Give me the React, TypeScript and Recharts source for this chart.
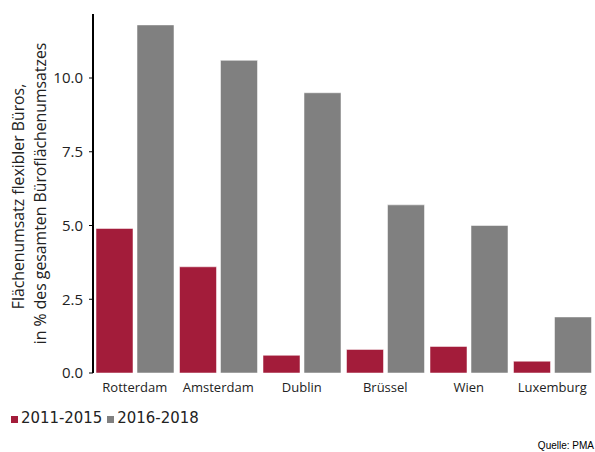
import { BarChart, Bar, XAxis, YAxis } from "recharts";

const cities = ["Rotterdam", "Amsterdam", "Dublin", "Brüssel", "Wien", "Luxemburg"];
const share20112015 = [4.9, 3.6, 0.6, 0.8, 0.9, 0.4];
const share20162018 = [11.8, 10.6, 9.5, 5.7, 5.0, 1.9];
const yTicks = [0, 2.5, 5, 7.5, 10];
const boundaryTicks = [0, 1, 2, 3, 4, 5, 6];

const RED = "#a31c3a";
const GRAY = "#808080";
const AXIS_FONT = "'Open Sans', sans-serif";

const data = cities.map((city, i) => ({
  city,
  a: share20112015[i],
  b: share20162018[i],
}));

function YTitle(props: any) {
  const vb = props.viewBox || {};
  const cy = vb.y + vb.height / 2;
  return (
    <g>
      <text
        x={18}
        y={cy + 3}
        transform={`rotate(-90, 18, ${cy + 3})`}
        textAnchor="middle"
        dominantBaseline="central"
        fontFamily={AXIS_FONT}
        fontSize={15.8}
        fill="#222"
      >
        Flächenumsatz flexibler Büros,
      </text>
      <text
        x={40}
        y={cy}
        transform={`rotate(-90, 40, ${cy})`}
        textAnchor="middle"
        dominantBaseline="central"
        fontFamily={AXIS_FONT}
        fontSize={15.8}
        fill="#222"
      >
        in % des gesamten Büroflächenumsatzes
      </text>
    </g>
  );
}

export default function App() {
  return (
    <div style={{ position: "absolute", left: 0, top: 0, width: 595, height: 452, background: "#fff" }}>
      <BarChart
        width={595}
        height={452}
        data={data}
        margin={{ top: 14, right: 1, left: 0, bottom: 49 }}
        barCategoryGap={3}
        barGap={4}
      >
        <XAxis
          xAxisId="grid"
          type="number"
          domain={[0, 6]}
          ticks={boundaryTicks}
          height={0}
          axisLine={{ stroke: "#000", strokeWidth: 2 }}
          tickLine={{ stroke: "#000", strokeWidth: 1 }}
          tickSize={4}
          tickFormatter={() => ""}
        />
        <XAxis
          xAxisId="cat"
          dataKey="city"
          height={30}
          axisLine={false}
          tickLine={false}
          interval={0}
          tickMargin={4}
          tick={{ fontFamily: AXIS_FONT, fontSize: 13, fill: "#222" }}
        />
        <YAxis
          width={93}
          domain={[0, 12.17]}
          ticks={yTicks}
          tickFormatter={(v: number) => v.toFixed(1)}
          axisLine={{ stroke: "#000", strokeWidth: 2 }}
          tickLine={{ stroke: "#000" }}
          tickSize={4}
          tickMargin={6}
          tick={{ fontFamily: AXIS_FONT, fontSize: 15, fill: "#222" }}
          label={{ content: <YTitle /> }}
        />
        <Bar xAxisId="cat" dataKey="a" fill={RED} stroke="rgba(255,255,255,0.5)" isAnimationActive={false} />
        <Bar xAxisId="cat" dataKey="b" fill={GRAY} stroke="rgba(255,255,255,0.5)" isAnimationActive={false} />
      </BarChart>
      <div
        style={{
          position: "absolute",
          left: 11,
          top: 408,
          display: "flex",
          alignItems: "baseline",
          fontFamily: "'DejaVu Sans Condensed', 'Liberation Sans', sans-serif",
          fontSize: 16.6,
          color: "#222",
        }}
      >
        <span style={{ width: 7, height: 7, background: RED, display: "inline-block", marginRight: 3 }} />
        <span style={{ marginRight: 5 }}>2011-2015</span>
        <span style={{ width: 7, height: 7, background: GRAY, display: "inline-block", marginRight: 3 }} />
        <span>2016-2018</span>
      </div>
      <div
        style={{
          position: "absolute",
          right: 1,
          top: 440,
          fontFamily: "'Liberation Sans', Arial, sans-serif",
          fontSize: 10,
          color: "#000",
        }}
      >
        Quelle: PMA
      </div>
    </div>
  );
}
